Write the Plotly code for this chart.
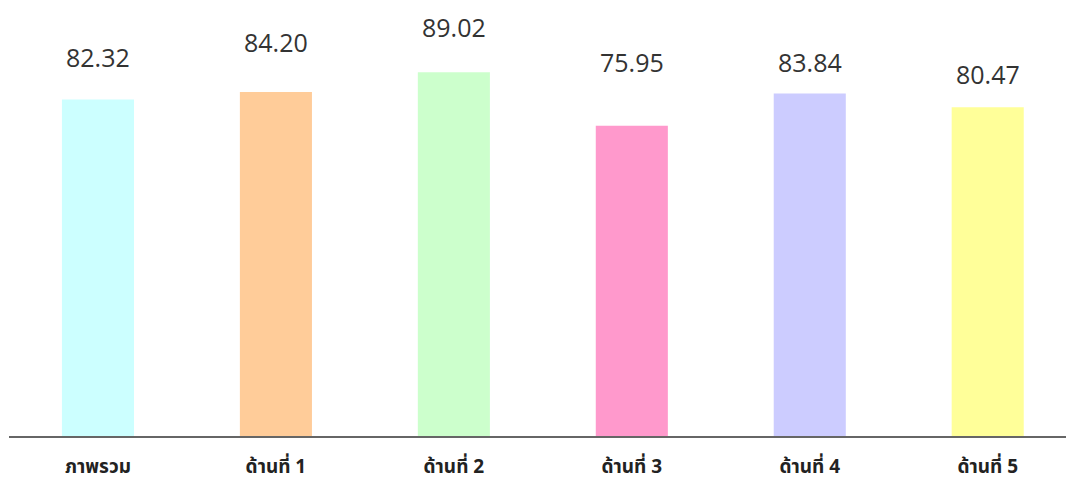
import plotly.graph_objects as go

categories = ["ภาพรวม", "ด้านที่ 1", "ด้านที่ 2", "ด้านที่ 3", "ด้านที่ 4", "ด้านที่ 5"]
values = [82.32, 84.20, 89.02, 75.95, 83.84, 80.47]
labels = ["82.32", "84.20", "89.02", "75.95", "83.84", "80.47"]

bar_colors = ["#CCFFFF", "#FFCC99", "#CCFFCC", "#FF99CC", "#CCCCFF", "#FFFF99"]
label_offsets = [43, 50, 45, 64, 31, 33]  # pixel gap from bar top to label centre

fig = go.Figure()
fig.add_trace(go.Bar(
    x=list(range(len(categories))),
    y=values,
    marker=dict(color=bar_colors, line=dict(width=0)),
    width=0.405,
    hoverinfo="skip",
))

for i, (v, t, off) in enumerate(zip(values, labels, label_offsets)):
    fig.add_annotation(
        x=i, y=v, text=t, showarrow=False,
        yshift=off, yanchor="middle", xanchor="center",
        font=dict(family="Open Sans, Noto Sans, sans-serif", size=25, color="#333333"),
    )

fig.update_layout(
    width=1066, height=484,
    margin=dict(l=9, r=0, t=0, b=48, autoexpand=False),
    paper_bgcolor="white", plot_bgcolor="white",
    showlegend=False,
    xaxis=dict(
        range=[-0.5, 5.44],
        tickmode="array",
        tickvals=list(range(len(categories))),
        ticktext=[f"<b>{c}</b>" for c in categories],
        showgrid=False, zeroline=False,
        showline=True, linecolor="#666666", linewidth=2,
        ticks="", ticklabelstandoff=12,
        tickfont=dict(family="Noto Sans Thai, Tahoma, Noto Sans, sans-serif", size=19, color="#222222"),
        automargin=False,
        fixedrange=True,
    ),
    yaxis=dict(
        range=[0, 106.7],
        visible=False,
        showgrid=False, zeroline=False,
        automargin=False,
        fixedrange=True,
    ),
)

fig.write_html(
    "out.html",
    config={"displayModeBar": False},
    post_script="document.body.style.margin='0';document.body.style.overflow='hidden';",
)
